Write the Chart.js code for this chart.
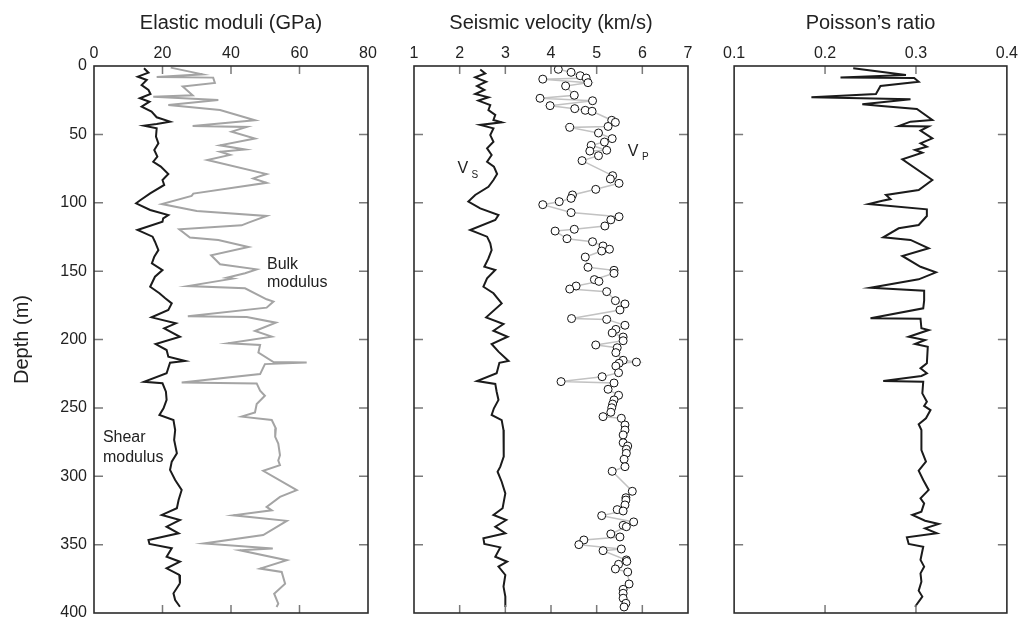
<!DOCTYPE html>
<html>
<head>
<meta charset="utf-8">
<script src="https://cdn.jsdelivr.net/npm/chart.js@4.4.1/dist/chart.umd.min.js"></script>
<style>
  html, body { margin: 0; padding: 0; background: #fff; overflow: hidden; }
  #lienzo { position: relative; width: 1021px; height: 619px; overflow: hidden; }
  canvas { position: absolute; top: 0; }
</style>
</head>
<body>
<div id="lienzo">
  <canvas id="moduli" width="380" height="640" style="left:0"></canvas>
  <canvas id="velocity" width="300" height="640" style="left:400px"></canvas>
  <canvas id="poisson" width="301" height="640" style="left:720px"></canvas>
</div>
<script>
// Ticks de cada panel
const depthTicks = [0, 50, 100, 150, 200, 250, 300, 350, 400];
const moduliTicks = [0, 20, 40, 60, 80];
const velocityTicks = [1, 2, 3, 4, 5, 6, 7];
const poissonTicks = [0.1, 0.2, 0.3, 0.4];
const poissonTickLabels = ['0.1', '0.2', '0.3', '0.4'];

// Módulo de cizalla (GPa) vs profundidad (m)
const shearDepth = [1.7,4.9,7.8,10.2,13.9,17.5,20.5,23.6,26.1,29.7,33.4,37.5,40.7,42.4,43.6,45.6,51.7,56.6,61.4,66.3,70,73.6,79,83.4,87,93.1,98,100.4,105.3,109,111.4,113.9,119.9,124.8,128.5,134.6,139.4,144.3,149.2,154.1,161.4,166.2,169.9,173.6,178.4,183.8,188.2,191.8,198,203.3,207.7,212.6,215.7,217,224.7,230.9,232,238.2,244.2,250.3,255.2,258.9,266.2,273.5,283.2,289.3,295.4,302.7,310,317.4,323.4,328.3,332,336.9,341.7,346.6,349.5,352.7,358.8,362.5,367.3,372.2,378.3,385.6,390.5,395.4];
const shearGPa = [14.6,15.9,12.8,15.4,13.9,15.9,16.5,13.4,16.2,13.9,16.8,18.3,22.2,18.3,14.6,18.3,18.1,18.8,17.6,18.5,17.3,19.5,21.7,20.0,20.5,16.4,13.6,12.3,16.4,21.7,20.2,20.0,12.7,17.1,17.8,18.8,17.6,16.9,20.0,17.8,16.4,19.1,20.8,22.7,21.7,16.8,23.9,20.5,25.1,18.0,21.2,21.7,26.6,22.2,21.2,14.6,20.0,21.0,21.2,20.3,19.1,23.2,23.7,23.4,24.2,22.7,22.2,23.7,25.6,24.7,24.2,19.8,25.1,21.2,24.7,15.9,16.2,22.7,21.2,25.1,21.2,24.9,25.1,23.2,23.7,25.1];

// Módulo volumétrico (GPa)
const bulkDepth = [1.2,6.1,8.1,8.5,12.4,15.0,21.4,22.5,24.9,28.6,32.2,39.7,43.8,44.6,48.0,53.0,58.0,61.0,62.7,65.0,68.7,79.0,82.2,85.4,93.3,95.0,100.9,106.0,109.7,114.5,116.5,119.4,125.5,127.2,132.3,138.4,145.0,148.7,151.6,154.8,155.5,160.9,162.6,170.6,172.3,176.7,183.0,183.6,187.7,193.8,197.9,202.8,204.0,209.5,216.5,216.8,218.0,225.3,231.4,232.1,237.5,241.1,247.2,253.3,256.4,258.9,265.1,271.2,276.1,284.6,288.5,291.9,296.0,310.2,315.1,322.4,324.9,328.6,332.6,343.0,349.1,352.8,354.1,361.4,367.5,370.0,378.6,385.9,393.2,395.6];
const bulkGPa = [22.4,31.7,18.3,34.8,35.3,25.9,28.8,17.3,36.3,21.7,36.8,47.0,28.8,44.6,40.2,47.0,36.8,44.1,36.8,39.7,33.1,50.4,46.5,50.4,29.0,28.5,19.8,30.0,50.4,45.1,43.1,24.9,28.0,36.3,45.1,34.2,36.8,47.5,44.1,38.7,40.5,27.4,44.1,50.4,52.4,50.4,27.4,44.6,53.1,47.0,51.9,39.2,48.5,48.0,52.4,62.1,49.9,48.5,25.6,47.5,48.5,49.9,47.5,47.0,43.1,51.9,53.1,52.9,53.8,54.3,53.8,54.3,49.4,59.2,54.3,50.4,51.9,40.7,56.3,49.4,32.1,52.2,42.6,56.3,48.5,54.8,55.8,52.6,53.8,53.3];

// Velocidad S (km/s)
const vsDepth = [2.5,5.4,8.3,11.5,14.6,17.5,20.5,22.9,25.3,28.5,32.2,35.8,39.5,41.2,43.1,45.6,50.5,55.4,60.2,65.1,70,73.6,79,83.4,88.3,94.3,99.2,104.1,109,112.6,119.9,124.8,129.7,134.6,140.7,146.8,149.2,155.3,161.4,166.2,173.6,183.8,188.7,193.6,198,203.3,208.9,215.7,217,224.7,230.4,232.5,238.2,244.2,250.3,255.2,258.9,266.2,275.9,285.7,293,296.7,304,312.5,323.4,328.3,332,336.9,341.7,345.4,349.5,352,358.8,362.5,366.1,372.2,380.7,388,395.6];
const vsKms = [2.45,2.56,2.34,2.58,2.38,2.54,2.34,2.63,2.41,2.67,2.63,2.78,2.74,2.92,2.45,2.74,2.67,2.74,2.60,2.70,2.60,2.75,2.82,2.74,2.63,2.34,2.19,2.45,2.85,2.78,2.23,2.60,2.67,2.70,2.63,2.54,2.78,2.60,2.52,2.74,2.92,2.58,2.96,2.74,3.05,2.70,2.85,3.07,2.87,2.81,2.38,2.78,2.81,2.85,2.75,2.70,2.92,2.96,2.97,2.96,2.89,2.83,2.92,3.00,2.94,2.74,3.02,2.78,3.00,2.52,2.54,2.89,2.78,3.04,2.85,3.00,2.96,3.00,3.00];

// Velocidad P (km/s), muestras puntuales
const vpDepth = [2.4,4.6,7.1,8.8,9.6,12.2,14.6,21.4,23.6,25.4,29.0,31.2,32.4,33.1,39.7,41.2,44.2,44.9,49.0,53.1,55.6,58.0,61.6,62.2,65.6,69.2,80.2,82.6,85.8,90.2,94.3,96.8,99.2,101.4,107.2,110.2,112.5,117.0,119.4,120.7,126.3,128.5,131.6,134.0,135.3,139.7,147.2,149.4,151.6,156.2,157.5,160.9,163.1,165.0,171.6,174.0,178.4,184.7,185.3,189.6,192.6,195.2,198.2,200.9,204.0,206.0,209.6,215.2,216.5,217.4,219.4,224.3,227.2,230.8,231.8,236.4,240.8,244.2,247.2,249.9,253.2,256.4,257.6,262.5,266.2,269.8,275.5,277.9,280.3,283.2,287.6,293.0,296.4,311.0,315.7,317.4,321.0,324.4,325.4,328.8,333.4,335.9,336.9,342.2,344.4,346.6,350.0,353.2,354.4,361.2,362.3,364.4,367.8,370.0,378.8,382.7,385.6,389.2,392.9,395.6];
const vpKms = [4.16,4.44,4.64,4.77,3.82,4.81,4.32,4.51,3.76,4.91,3.98,4.52,4.75,4.90,5.33,5.41,5.25,4.41,5.04,5.34,5.17,4.88,5.22,4.85,5.04,4.68,5.35,5.30,5.49,4.98,4.47,4.44,4.18,3.82,4.44,5.49,5.31,5.18,4.51,4.09,4.35,4.91,5.14,5.28,5.11,4.75,4.81,5.38,5.38,4.95,5.05,4.55,4.41,5.22,5.41,5.62,5.51,4.45,5.22,5.62,5.42,5.34,5.58,5.58,4.98,5.45,5.42,5.58,5.87,5.49,5.42,5.48,5.12,4.22,5.38,5.25,5.48,5.38,5.35,5.33,5.31,5.14,5.54,5.62,5.62,5.58,5.58,5.68,5.65,5.65,5.60,5.62,5.34,5.78,5.64,5.64,5.62,5.45,5.58,5.11,5.81,5.58,5.65,5.31,5.51,4.72,4.61,5.54,5.14,5.65,5.66,5.48,5.41,5.68,5.71,5.58,5.58,5.58,5.64,5.60];

// Coeficiente de Poisson
const prDepth = [1.7,6.6,8.5,8.7,11.5,14.6,20.5,22.9,24.4,28.0,29.3,31.4,39.5,40.7,43.9,44.2,47.3,52.9,56.5,59.0,61.4,63.4,68.2,83.4,90.7,94.3,97.3,98.5,100.9,104.8,109.7,116.3,118.7,125.3,127.2,133.3,138.9,146.8,150.9,156.0,162.1,164.3,171.6,177.2,184.5,184.8,191.8,193.1,198.0,200.4,203.3,205.3,217.4,221.1,224.7,226.7,230.4,230.9,239.4,245.5,248.6,251.6,257.6,262.0,266.2,280.8,289.3,295.9,302.7,310.0,316.1,319.8,325.9,328.3,332.5,334.9,338.1,341.7,344.6,349.5,351.5,361.2,366.1,371.0,377.1,383.7,388.0,395.4];
const prRatio = [0.231,0.289,0.217,0.298,0.303,0.261,0.256,0.185,0.294,0.241,0.262,0.301,0.318,0.294,0.281,0.314,0.305,0.318,0.305,0.312,0.299,0.307,0.285,0.318,0.303,0.267,0.272,0.263,0.248,0.312,0.312,0.303,0.281,0.264,0.294,0.314,0.285,0.305,0.322,0.303,0.250,0.309,0.309,0.308,0.250,0.305,0.306,0.314,0.292,0.310,0.299,0.313,0.312,0.305,0.312,0.306,0.264,0.308,0.307,0.312,0.309,0.316,0.311,0.303,0.306,0.306,0.311,0.303,0.308,0.314,0.305,0.309,0.306,0.296,0.310,0.325,0.310,0.323,0.290,0.292,0.308,0.305,0.309,0.305,0.306,0.303,0.307,0.299];

const FUENTE = '"Liberation Sans", Arial, Helvetica, sans-serif';
const COLOR_NEGRO = '#1b1b1b';
const COLOR_GRIS = '#a4a4a4';
const COLOR_VP_LINEA = '#c2c2c2';
const COLOR_TEXTO = '#222';
const COLOR_TICK = '#7a7a7a';
const COLOR_MARCO = '#2b2b2b';
const LARGO_TICK = 8;

Chart.defaults.font.family = FUENTE;
Chart.defaults.color = COLOR_TEXTO;

const puntos = (xs, ys) => xs.slice(0, Math.min(xs.length, ys.length)).map((x, i) => ({ x, y: ys[i] }));

// marco completo + ticks hacia dentro + rótulos en coordenadas de datos
const marcoInterior = {
    id: 'marcoInterior',
    afterDatasetsDraw(chart, args, opts) {
        const { ctx, chartArea: a, scales: { x, y } } = chart;
        ctx.save();
        ctx.strokeStyle = COLOR_TICK;
        ctx.lineWidth = 1.5;
        ctx.beginPath();
        opts.xTicks.slice(1, -1).forEach(v => {
            const px = x.getPixelForValue(v);
            ctx.moveTo(px, a.top); ctx.lineTo(px, a.top + LARGO_TICK);
            ctx.moveTo(px, a.bottom); ctx.lineTo(px, a.bottom - LARGO_TICK);
        });
        depthTicks.slice(1, -1).forEach(v => {
            const py = y.getPixelForValue(v);
            ctx.moveTo(a.left, py); ctx.lineTo(a.left + LARGO_TICK + 1, py);
            ctx.moveTo(a.right, py); ctx.lineTo(a.right - LARGO_TICK - 1, py);
        });
        ctx.stroke();
        ctx.strokeStyle = COLOR_MARCO;
        ctx.lineWidth = 1.6;
        ctx.strokeRect(a.left, a.top, a.right - a.left, a.bottom - a.top);

        ctx.fillStyle = COLOR_TEXTO;
        ctx.textBaseline = 'middle';
        ctx.textAlign = 'left';
        (opts.textos || []).forEach(t => {
            ctx.font = `${t.size}px ${FUENTE}`;
            ctx.fillText(t.text, x.getPixelForValue(t.x), y.getPixelForValue(t.y));
        });
        ctx.restore();
    }
};

function crearPanel(id, { titulo, xMin, xMax, xTicks, xLabels, datasets, conProfundidad, padLeft, padRight, textos }) {
    return new Chart(document.getElementById(id), {
        type: 'scatter',
        data: { datasets },
        plugins: [marcoInterior],
        options: {
            responsive: false,
            animation: false,
            layout: { padding: { top: 0, left: padLeft, right: padRight, bottom: 27 } },
            plugins: {
                legend: { display: false },
                tooltip: { enabled: false },
                marcoInterior: { xTicks, textos }
            },
            scales: {
                x: {
                    type: 'linear',
                    position: 'top',
                    min: xMin,
                    max: xMax,
                    afterBuildTicks: s => { s.ticks = xTicks.map(value => ({ value })); },
                    afterFit: s => { s.height = 66; },
                    grid: { display: false, drawTicks: false },
                    border: { display: false },
                    ticks: {
                        padding: 3,
                        color: COLOR_TEXTO,
                        font: { size: 16 },
                        maxRotation: 0,
                        callback: (v, i) => xLabels ? xLabels[i] : v
                    },
                    title: {
                        display: true,
                        text: titulo,
                        color: COLOR_TEXTO,
                        font: { size: 20 },
                        padding: { top: 11, bottom: 0 }
                    }
                },
                y: {
                    type: 'linear',
                    display: conProfundidad,
                    reverse: true,
                    min: 0,
                    max: 400,
                    afterBuildTicks: s => { s.ticks = depthTicks.map(value => ({ value })); },
                    afterFit: s => { s.width = conProfundidad ? 94 : 0; },
                    grid: { display: false, drawTicks: false },
                    border: { display: false },
                    ticks: { padding: 7, color: COLOR_TEXTO, font: { size: 16 } },
                    title: {
                        display: true,
                        text: 'Depth (m)',
                        color: COLOR_TEXTO,
                        font: { size: 20 },
                        padding: { top: 10, bottom: 0 }
                    }
                }
            }
        }
    });
}

const linea = (data, color, ancho) => ({
    data, showLine: true, borderColor: color, borderWidth: ancho,
    pointRadius: 0, tension: 0, fill: false
});

crearPanel('moduli', {
    titulo: 'Elastic moduli (GPa)',
    xMin: 0, xMax: 80, xTicks: moduliTicks,
    conProfundidad: true, padLeft: 0, padRight: 12,
    datasets: [
        linea(puntos(bulkGPa, bulkDepth), COLOR_GRIS, 2),
        linea(puntos(shearGPa, shearDepth), COLOR_NEGRO, 2)
    ],
    textos: [
        { text: 'Bulk', x: 50.5, y: 145, size: 16 },
        { text: 'modulus', x: 50.5, y: 158.5, size: 16 },
        { text: 'Shear', x: 2.6, y: 271.5, size: 16 },
        { text: 'modulus', x: 2.6, y: 286, size: 16 }
    ]
});

crearPanel('velocity', {
    titulo: 'Seismic velocity (km/s)',
    xMin: 1, xMax: 7, xTicks: velocityTicks,
    conProfundidad: false, padLeft: 14, padRight: 12,
    datasets: [
        linea(puntos(vsKms, vsDepth), COLOR_NEGRO, 2),
        {
            data: puntos(vpKms, vpDepth),
            showLine: true,
            borderColor: COLOR_VP_LINEA,
            borderWidth: 1.5,
            tension: 0,
            pointRadius: 4,
            pointBackgroundColor: '#fff',
            pointBorderColor: '#111',
            pointBorderWidth: 1
        }
    ],
    textos: [
        { text: 'V', x: 1.95, y: 75, size: 16 },
        { text: 'S', x: 2.26, y: 80, size: 10 },
        { text: 'V', x: 5.68, y: 62.5, size: 16 },
        { text: 'P', x: 5.99, y: 67, size: 10 }
    ]
});

crearPanel('poisson', {
    titulo: 'Poisson\u2019s ratio',
    xMin: 0.1, xMax: 0.4, xTicks: poissonTicks, xLabels: poissonTickLabels,
    conProfundidad: false, padLeft: 13, padRight: 14,
    datasets: [
        linea(puntos(prRatio, prDepth), COLOR_NEGRO, 2)
    ]
});
</script>
</body>
</html>
